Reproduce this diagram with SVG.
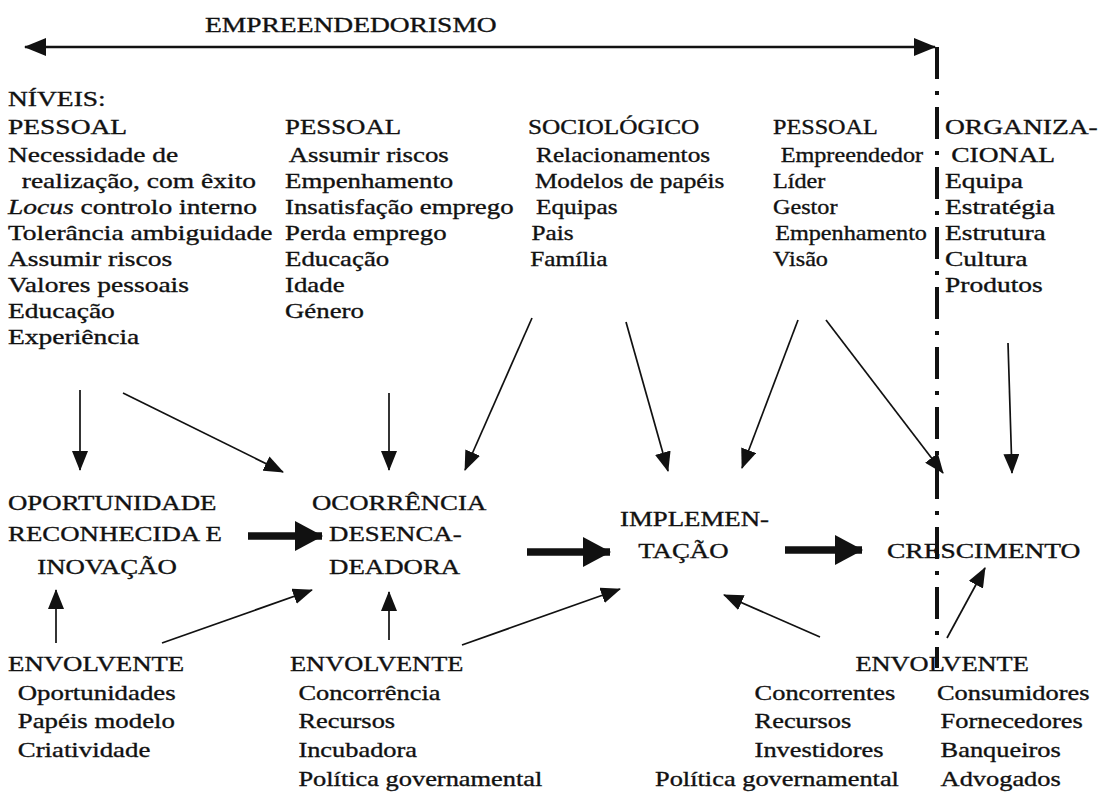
<svg xmlns="http://www.w3.org/2000/svg" width="1109" height="804" viewBox="0 0 1109 804">
  <style>
    .lbl { font-family: 'Liberation Serif', 'Times New Roman', Times, serif; font-size: 22px; fill: #111; stroke: #111; stroke-width: 0.35; }
    .thin { stroke: #111; stroke-width: 1.7; fill: none; marker-end: url(#head); }
    .thick { stroke: #111; stroke-width: 7.5; fill: none; marker-end: url(#bighead); }
    .span { stroke: #111; stroke-width: 2.5; fill: none; marker-start: url(#spanStart); marker-end: url(#spanEnd); }
    .divider { stroke: #111; stroke-width: 4; fill: none; stroke-dasharray: 32 12 4 12; }
  </style>
  <defs>
    <marker id="head" markerUnits="userSpaceOnUse" markerWidth="20" markerHeight="16" refX="19" refY="8" orient="auto">
      <path d="M0,0 L20,8 L0,16 z" fill="#111"/>
    </marker>
    <marker id="bighead" markerUnits="userSpaceOnUse" markerWidth="28" markerHeight="30" refX="27" refY="15" orient="auto">
      <path d="M0,0 L28,15 L0,30 z" fill="#111"/>
    </marker>
    <marker id="spanEnd" markerUnits="userSpaceOnUse" markerWidth="22" markerHeight="18" refX="21" refY="9" orient="auto">
      <path d="M0,0 L22,9 L0,18 z" fill="#111"/>
    </marker>
    <marker id="spanStart" markerUnits="userSpaceOnUse" markerWidth="22" markerHeight="18" refX="1" refY="9" orient="auto">
      <path d="M22,0 L0,9 L22,18 z" fill="#111"/>
    </marker>
  </defs>

  <rect width="1109" height="804" fill="#ffffff"/>

  <!-- title and span of entrepreneurship -->
  <g id="title" class="lbl" transform="translate(205,0) scale(1.25,1)">
    <text x="0" y="32">EMPREENDEDORISMO</text>
  </g>

  <!-- personal / organisational boundary -->
  <line class="divider" x1="937" y1="47" x2="937" y2="668"/>

  <!-- level columns -->
  <g id="col-pessoal-1" class="lbl" transform="translate(8,0) scale(1.25,1)">
    <text x="0" y="106">NÍVEIS:</text>
    <text x="0" y="134">PESSOAL</text>
    <text x="0" y="162">Necessidade de</text>
    <text x="11" y="188">realização, com êxito</text>
    <text x="0" y="214"><tspan font-style="italic">Locus</tspan> controlo interno</text>
    <text x="0" y="240">Tolerância ambiguidade</text>
    <text x="0" y="266">Assumir riscos</text>
    <text x="0" y="292">Valores pessoais</text>
    <text x="0" y="318">Educação</text>
    <text x="0" y="344">Experiência</text>
  </g>

  <g id="col-pessoal-2" class="lbl" transform="translate(285,0) scale(1.22,1)">
    <text x="0" y="134">PESSOAL</text>
    <text x="3" y="162">Assumir riscos</text>
    <text x="0" y="188">Empenhamento</text>
    <text x="0" y="214">Insatisfação emprego</text>
    <text x="0" y="240">Perda emprego</text>
    <text x="0" y="266">Educação</text>
    <text x="0" y="292">Idade</text>
    <text x="0" y="318">Género</text>
  </g>

  <g id="col-sociologico" class="lbl" transform="translate(528,0) scale(1.15,1)">
    <text x="0" y="134">SOCIOLÓGICO</text>
    <text x="7" y="162">Relacionamentos</text>
    <text x="6" y="188">Modelos de papéis</text>
    <text x="7" y="214">Equipas</text>
    <text x="3" y="240">Pais</text>
    <text x="2" y="266">Família</text>
  </g>

  <g id="col-pessoal-3" class="lbl" transform="translate(773,0) scale(1.1,1)">
    <text x="0" y="134">PESSOAL</text>
    <text x="7" y="162">Empreendedor</text>
    <text x="0" y="188">Líder</text>
    <text x="0" y="214">Gestor</text>
    <text x="2" y="240">Empenhamento</text>
    <text x="0" y="266">Visão</text>
  </g>

  <g id="col-organizacional" class="lbl" transform="translate(945,0) scale(1.25,1)">
    <text x="0" y="134">ORGANIZA-</text>
    <text x="5" y="162">CIONAL</text>
    <text x="0" y="188">Equipa</text>
    <text x="0" y="214">Estratégia</text>
    <text x="0" y="240">Estrutura</text>
    <text x="0" y="266">Cultura</text>
    <text x="0" y="292">Produtos</text>
  </g>

  <!-- process stages -->
  <g id="stage-oportunidade" class="lbl" transform="translate(8,0) scale(1.22,1)">
    <text x="0" y="510">OPORTUNIDADE</text>
    <text x="0" y="541">RECONHECIDA E</text>
    <text x="24" y="574">INOVAÇÃO</text>
  </g>

  <g id="stage-ocorrencia" class="lbl" transform="translate(312,0) scale(1.22,1)">
    <text x="0" y="510">OCORRÊNCIA</text>
    <text x="14" y="541">DESENCA-</text>
    <text x="14" y="574">DEADORA</text>
  </g>

  <g id="stage-implementacao" class="lbl" transform="translate(620,0) scale(1.22,1)">
    <text x="0" y="526">IMPLEMEN-</text>
    <text x="15" y="558">TAÇÃO</text>
  </g>

  <g id="stage-crescimento" class="lbl" transform="translate(887,0) scale(1.25,1)">
    <text x="0" y="558">CRESCIMENTO</text>
  </g>

  <!-- environment factors -->
  <g id="env-1" class="lbl" transform="translate(8,0) scale(1.22,1)">
    <text x="0" y="671">ENVOLVENTE</text>
    <text x="8" y="700">Oportunidades</text>
    <text x="8" y="728">Papéis modelo</text>
    <text x="8" y="757">Criatividade</text>
  </g>

  <g id="env-2" class="lbl" transform="translate(290,0) scale(1.2,1)">
    <text x="0" y="671">ENVOLVENTE</text>
    <text x="7" y="700">Concorrência</text>
    <text x="7" y="728">Recursos</text>
    <text x="7" y="757">Incubadora</text>
    <text x="7" y="786">Política governamental</text>
  </g>

  <g id="env-3" class="lbl" transform="translate(655,0) scale(1.2,1)">
    <text x="167" y="671">ENVOLVENTE</text>
    <text x="83" y="700">Concorrentes</text>
    <text x="83" y="728">Recursos</text>
    <text x="83" y="757">Investidores</text>
    <text x="0" y="786">Política governamental</text>
    <text x="235" y="700">Consumidores</text>
    <text x="238" y="728">Fornecedores</text>
    <text x="238" y="757">Banqueiros</text>
    <text x="238" y="786">Advogados</text>
  </g>

  <!-- connectors -->
  <g id="connectors">
    <line class="span" x1="25" y1="47" x2="935" y2="47"/>

    <line class="thin" x1="80" y1="390" x2="80" y2="470"/>
    <line class="thin" x1="123" y1="393" x2="283" y2="472"/>
    <line class="thin" x1="389" y1="393" x2="389" y2="470"/>
    <line class="thin" x1="532" y1="318" x2="465" y2="470"/>
    <line class="thin" x1="626" y1="322" x2="668" y2="471"/>
    <line class="thin" x1="798" y1="320" x2="742" y2="468"/>
    <line class="thin" x1="826" y1="320" x2="943" y2="473"/>
    <line class="thin" x1="1008" y1="343" x2="1012" y2="473"/>

    <line class="thin" x1="56" y1="643" x2="56" y2="590"/>
    <line class="thin" x1="162" y1="643" x2="312" y2="590"/>
    <line class="thin" x1="389" y1="640" x2="389" y2="592"/>
    <line class="thin" x1="462" y1="645" x2="620" y2="589"/>
    <line class="thin" x1="820" y1="637" x2="724" y2="595"/>
    <line class="thin" x1="947" y1="638" x2="985" y2="568"/>

    <line class="thick" x1="248" y1="536" x2="322" y2="536"/>
    <line class="thick" x1="527" y1="552" x2="610" y2="552"/>
    <line class="thick" x1="785" y1="550" x2="862" y2="550"/>
  </g>
</svg>
